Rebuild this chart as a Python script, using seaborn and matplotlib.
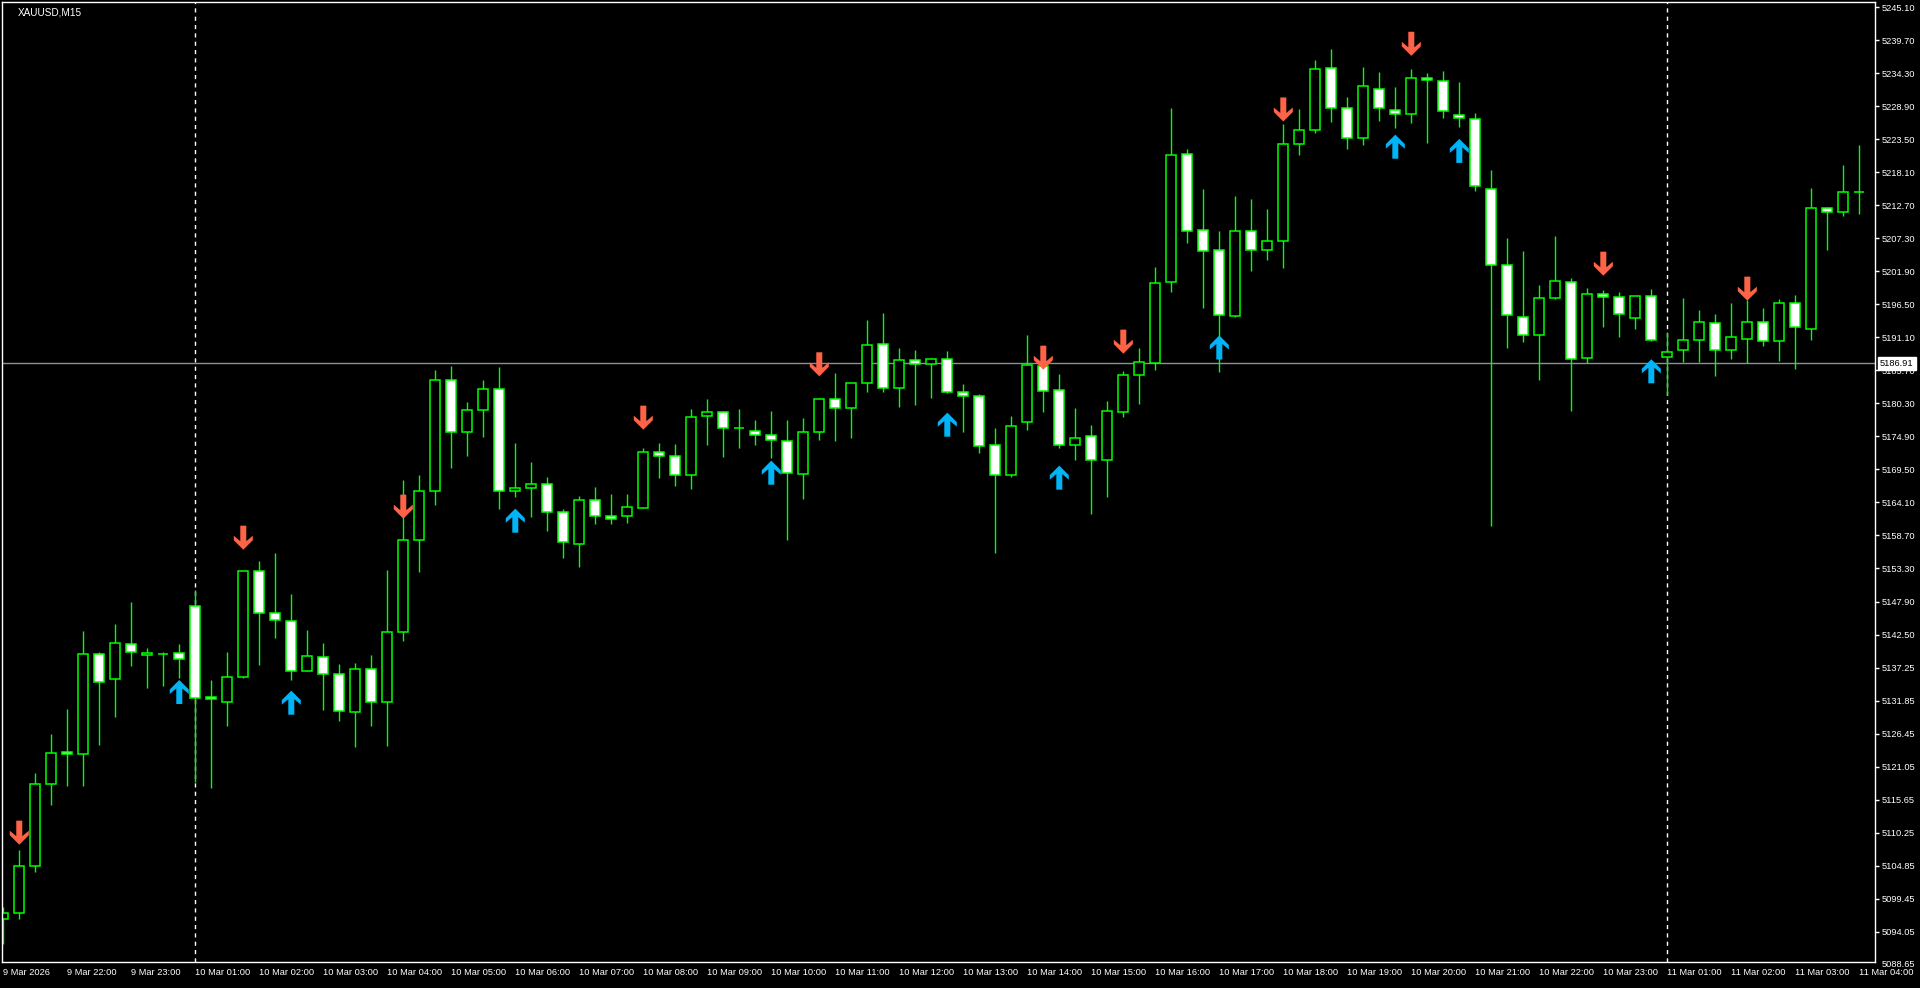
import matplotlib
matplotlib.use("Agg")
import numpy as np
import matplotlib.pyplot as plt
from matplotlib.path import Path
from matplotlib import transforms
import seaborn as sns

symbol = "XAUUSD,M15"
last_price = 5186.91

# 15-minute candles, 9 Mar 21:00 -> 11 Mar 04:00
opens = [5096.06, 5097.05, 5104.73, 5118.12, 5123.35, 5123.03, 5139.37, 5135.28, 5141.00, 5139.20,
         5139.37, 5139.53, 5147.21, 5132.39, 5131.52, 5135.72, 5152.93, 5146.07, 5144.76, 5136.70,
         5138.88, 5136.10, 5129.89, 5136.92, 5131.52, 5142.96, 5157.99, 5166.00, 5184.14, 5175.64,
         5179.23, 5182.67, 5166.00, 5166.49, 5167.14, 5162.57, 5157.34, 5164.53, 5161.91, 5161.91,
         5163.22, 5172.37, 5171.72, 5168.61, 5178.25, 5178.91, 5176.35, 5175.80, 5175.15, 5174.17,
         5168.78, 5175.64, 5181.03, 5179.56, 5183.65, 5190.02, 5182.83, 5187.40, 5186.75, 5187.57,
         5182.17, 5181.52, 5173.51, 5168.61, 5177.27, 5186.42, 5182.50, 5173.51, 5174.99, 5171.06,
         5178.91, 5184.95, 5186.90, 5200.13, 5221.06, 5208.63, 5205.36, 5194.60, 5208.46, 5205.36,
         5206.83, 5222.69, 5225.11, 5235.13, 5228.60, 5223.65, 5231.70, 5228.38, 5227.59, 5233.61,
         5233.10, 5227.53, 5226.86, 5215.44, 5202.92, 5194.43, 5191.59, 5197.53, 5200.14, 5187.73,
         5198.18, 5197.69, 5194.26, 5197.86, 5187.89, 5189.14, 5190.67, 5193.45, 5189.14, 5190.94,
         5193.61, 5190.61, 5196.71, 5192.47, 5212.24, 5211.58, 5214.96]
highs = [5098.14, 5107.39, 5119.98, 5126.35, 5130.43, 5143.18, 5139.75, 5144.32, 5147.92, 5140.40,
         5139.75, 5141.05, 5149.88, 5135.17, 5139.75, 5153.00, 5154.61, 5155.92, 5149.22, 5143.34,
         5141.22, 5137.79, 5137.95, 5139.26, 5153.15, 5167.85, 5168.67, 5185.82, 5186.48, 5180.60,
         5184.19, 5186.31, 5173.90, 5170.79, 5168.34, 5163.11, 5165.24, 5166.71, 5165.56, 5165.56,
         5173.02, 5173.90, 5173.73, 5179.45, 5181.09, 5179.10, 5179.45, 5177.65, 5179.12, 5177.65,
         5177.98, 5181.20, 5185.28, 5183.70, 5193.99, 5195.14, 5189.42, 5189.09, 5187.70, 5188.93,
         5183.48, 5181.85, 5176.35, 5178.31, 5191.54, 5188.50, 5185.17, 5179.61, 5176.84, 5180.76,
         5185.66, 5189.42, 5202.66, 5228.55, 5221.85, 5215.38, 5208.51, 5214.25, 5213.75, 5212.12,
         5226.01, 5228.49, 5236.48, 5238.28, 5230.40, 5235.36, 5234.51, 5232.04, 5235.02, 5234.29,
         5234.68, 5232.82, 5227.82, 5218.42, 5207.39, 5205.26, 5199.71, 5207.72, 5200.85, 5199.22,
         5198.89, 5198.57, 5197.90, 5199.06, 5191.98, 5197.59, 5195.62, 5194.97, 5196.77, 5197.26,
         5195.95, 5197.42, 5198.08, 5215.56, 5212.45, 5219.32, 5222.59]
lows = [5092.00, 5096.17, 5103.85, 5114.80, 5117.91, 5117.91, 5124.61, 5129.18, 5137.51, 5133.92,
        5134.25, 5135.50, 5118.56, 5117.58, 5127.71, 5135.55, 5137.68, 5142.09, 5135.23, 5136.60,
        5130.32, 5128.53, 5124.28, 5127.71, 5124.44, 5141.50, 5152.87, 5163.82, 5169.87, 5171.83,
        5174.93, 5163.17, 5165.13, 5161.86, 5159.57, 5155.16, 5153.69, 5160.72, 5160.72, 5160.88,
        5163.20, 5168.23, 5166.82, 5166.43, 5173.62, 5171.66, 5173.13, 5173.62, 5171.40, 5158.05,
        5164.80, 5174.44, 5174.28, 5174.77, 5182.28, 5182.28, 5179.83, 5180.16, 5181.30, 5182.00,
        5175.75, 5172.32, 5155.87, 5168.40, 5176.07, 5179.02, 5173.13, 5171.17, 5162.35, 5165.13,
        5178.09, 5180.32, 5185.89, 5198.61, 5206.60, 5196.02, 5185.55, 5194.45, 5202.04, 5203.84,
        5202.55, 5221.01, 5224.61, 5226.35, 5221.96, 5222.64, 5226.58, 5225.40, 5226.24, 5222.98,
        5226.92, 5225.56, 5215.10, 5160.40, 5189.42, 5190.45, 5184.24, 5197.40, 5179.18, 5187.02,
        5192.90, 5191.27, 5192.57, 5190.60, 5181.79, 5187.18, 5187.18, 5184.89, 5187.67, 5186.91,
        5189.80, 5187.35, 5186.04, 5190.78, 5205.48, 5210.98, 5211.31]
closes = [5097.05, 5104.78, 5118.12, 5123.19, 5123.03, 5139.37, 5134.79, 5141.16, 5139.69, 5139.53,
          5139.37, 5138.55, 5132.18, 5132.07, 5135.61, 5152.93, 5146.07, 5144.92, 5136.59, 5139.04,
          5136.10, 5130.05, 5136.92, 5131.52, 5142.96, 5157.99, 5166.00, 5184.14, 5175.64, 5179.23,
          5182.67, 5166.00, 5166.49, 5167.14, 5162.57, 5157.67, 5164.53, 5161.91, 5161.42, 5163.38,
          5172.37, 5171.72, 5168.61, 5178.09, 5178.91, 5176.29, 5176.35, 5175.15, 5174.33, 5168.94,
          5175.64, 5181.03, 5179.56, 5183.65, 5189.85, 5182.83, 5187.40, 5186.75, 5187.57, 5182.17,
          5181.52, 5173.35, 5168.61, 5176.62, 5186.59, 5182.34, 5173.51, 5174.66, 5171.06, 5179.07,
          5184.95, 5187.08, 5199.96, 5220.89, 5208.46, 5205.19, 5194.78, 5208.46, 5205.36, 5206.83,
          5222.69, 5225.11, 5234.96, 5228.60, 5223.65, 5232.15, 5228.60, 5227.59, 5233.50, 5233.16,
          5228.10, 5226.97, 5215.83, 5202.94, 5194.86, 5191.59, 5197.53, 5200.31, 5187.56, 5198.18,
          5197.75, 5194.92, 5197.86, 5190.67, 5188.71, 5190.67, 5193.61, 5189.14, 5191.16, 5193.61,
          5190.50, 5196.71, 5192.79, 5212.24, 5211.58, 5214.85, 5214.96]

# signal arrows (candle index, price level of the arrow)
sell_idx = [1, 15, 25, 40, 51, 65, 70, 80, 88, 100, 109]
sell_price = [5110.22, 5158.42, 5163.49, 5178.03, 5186.75, 5187.83, 5190.45, 5228.39, 5239.12, 5203.19, 5199.11]
buy_idx = [11, 18, 32, 48, 59, 66, 76, 87, 91, 103]
buy_price = [5133.21, 5131.46, 5161.20, 5169.04, 5176.89, 5168.23, 5189.50, 5222.31, 5221.62, 5185.61]

# one label per hour (every 4 candles)
time_labels = ["9 Mar 2026", "9 Mar 22:00", "9 Mar 23:00",
               "10 Mar 01:00", "10 Mar 02:00", "10 Mar 03:00", "10 Mar 04:00", "10 Mar 05:00",
               "10 Mar 06:00", "10 Mar 07:00", "10 Mar 08:00", "10 Mar 09:00", "10 Mar 10:00",
               "10 Mar 11:00", "10 Mar 12:00", "10 Mar 13:00", "10 Mar 14:00", "10 Mar 15:00",
               "10 Mar 16:00", "10 Mar 17:00", "10 Mar 18:00", "10 Mar 19:00", "10 Mar 20:00",
               "10 Mar 21:00", "10 Mar 22:00", "10 Mar 23:00",
               "11 Mar 01:00", "11 Mar 02:00", "11 Mar 03:00", "11 Mar 04:00"]

price_labels = ["5088.65", "5094.05", "5099.45", "5104.85", "5110.25", "5115.65", "5121.05",
                "5126.45", "5131.85", "5137.25", "5142.50", "5147.90", "5153.30", "5158.70",
                "5164.10", "5169.50", "5174.90", "5180.30", "5185.70", "5191.10", "5196.50",
                "5201.90", "5207.30", "5212.70", "5218.10", "5223.50", "5228.90", "5234.30",
                "5239.70", "5245.10"]

CANDLE_EDGE = "#00ff00"
FS = 6.7

sns.set_theme(style="dark", rc={"axes.facecolor": "black", "figure.facecolor": "black"})
plt.rcParams["font.family"] = ["Liberation Sans", "DejaVu Sans"]

fig = plt.figure(figsize=(19.2, 9.88), dpi=100)
ax = fig.add_axes([2 / 1920, 26 / 988, 1873 / 1920, 960 / 988])
ax.set_facecolor("black")

o = np.array(opens)
h = np.array(highs)
l = np.array(lows)
c = np.array(closes)
x = np.arange(len(o))

# wicks under the bodies, bodies hide the wick inside (hollow = bullish)
ax.vlines(x, l, h, color=CANDLE_EDGE, lw=1, zorder=1)
fill = np.where(c > o, "black", "white")
ax.bar(x, np.abs(c - o), bottom=np.minimum(o, c), width=0.62, color=fill,
       edgecolor=CANDLE_EDGE, linewidth=1.1, zorder=2)

# arrows
up = [(0, 12), (9.5, 2.5), (9.5, -2), (3, 3.5), (3, -12), (-3, -12), (-3, 3.5),
      (-9.5, -2), (-9.5, 2.5), (0, 12)]
codes = [Path.MOVETO] + [Path.LINETO] * 8 + [Path.CLOSEPOLY]
up_arrow = Path(up, codes)
down_arrow = Path([(a, -b) for a, b in up], codes)

sns.scatterplot(x=sell_idx, y=sell_price, marker=down_arrow, s=300, color="#ff6347",
                edgecolor="none", linewidth=0, ax=ax, zorder=4)
sns.scatterplot(x=buy_idx, y=buy_price, marker=up_arrow, s=300, color="#00b4f5",
                edgecolor="none", linewidth=0, ax=ax, zorder=4)

# current price line
ax.axhline(last_price, color="#8a8f9c", lw=1, zorder=0.5)

# day separators
tick_pos = [4 * i for i in range(len(time_labels))]
for pos, lab in zip(tick_pos, time_labels):
    if lab.endswith("01:00"):
        ax.axvline(pos, color="white", lw=1, ls=(0, (3, 3)), zorder=0.6)

ax.set_xlim(-0.08, 116.98)
ax.set_ylim(5089.09, 5245.95)

ax.set_xticks(tick_pos)
ax.set_xticklabels(time_labels)
plt.setp(ax.get_xticklabels(), ha="left")
ypos = np.linspace(float(price_labels[0]), float(price_labels[-1]), len(price_labels))
ax.set_yticks(ypos[1:])
ax.set_yticklabels(price_labels[1:])
ax.yaxis.tick_right()
ax.tick_params(axis="both", colors="white", labelcolor="white", labelsize=FS,
               length=3, width=1, direction="out", pad=2)
ax.tick_params(axis="x", pad=1.5)
ax.grid(False)
for sp in ax.spines.values():
    sp.set_color("white")
    sp.set_linewidth(1)
    sp.set_visible(True)

# lowest price label sits just under the frame edge
trans = transforms.blended_transform_factory(ax.transAxes, ax.transData)
ax.annotate(price_labels[0], xy=(1.0, ypos[0]), xycoords=trans, xytext=(5, 0),
            textcoords="offset points", color="white", fontsize=FS, va="center", ha="left",
            annotation_clip=False)

# current price tag
ax.annotate(f"{last_price:.2f}", xy=(1.0, last_price), xycoords=trans, xytext=(3.5, 0),
            textcoords="offset points", color="black", fontsize=FS, va="center", ha="left",
            annotation_clip=False, zorder=10,
            bbox=dict(facecolor="white", edgecolor="white", boxstyle="square,pad=0.25"))

ax.text(0.0085, 0.994, symbol, transform=ax.transAxes, color="white", fontsize=7.2,
        va="top", ha="left")

ax.set_xlabel("")
ax.set_ylabel("")
fig.savefig("out.png", dpi=100, facecolor="black")
